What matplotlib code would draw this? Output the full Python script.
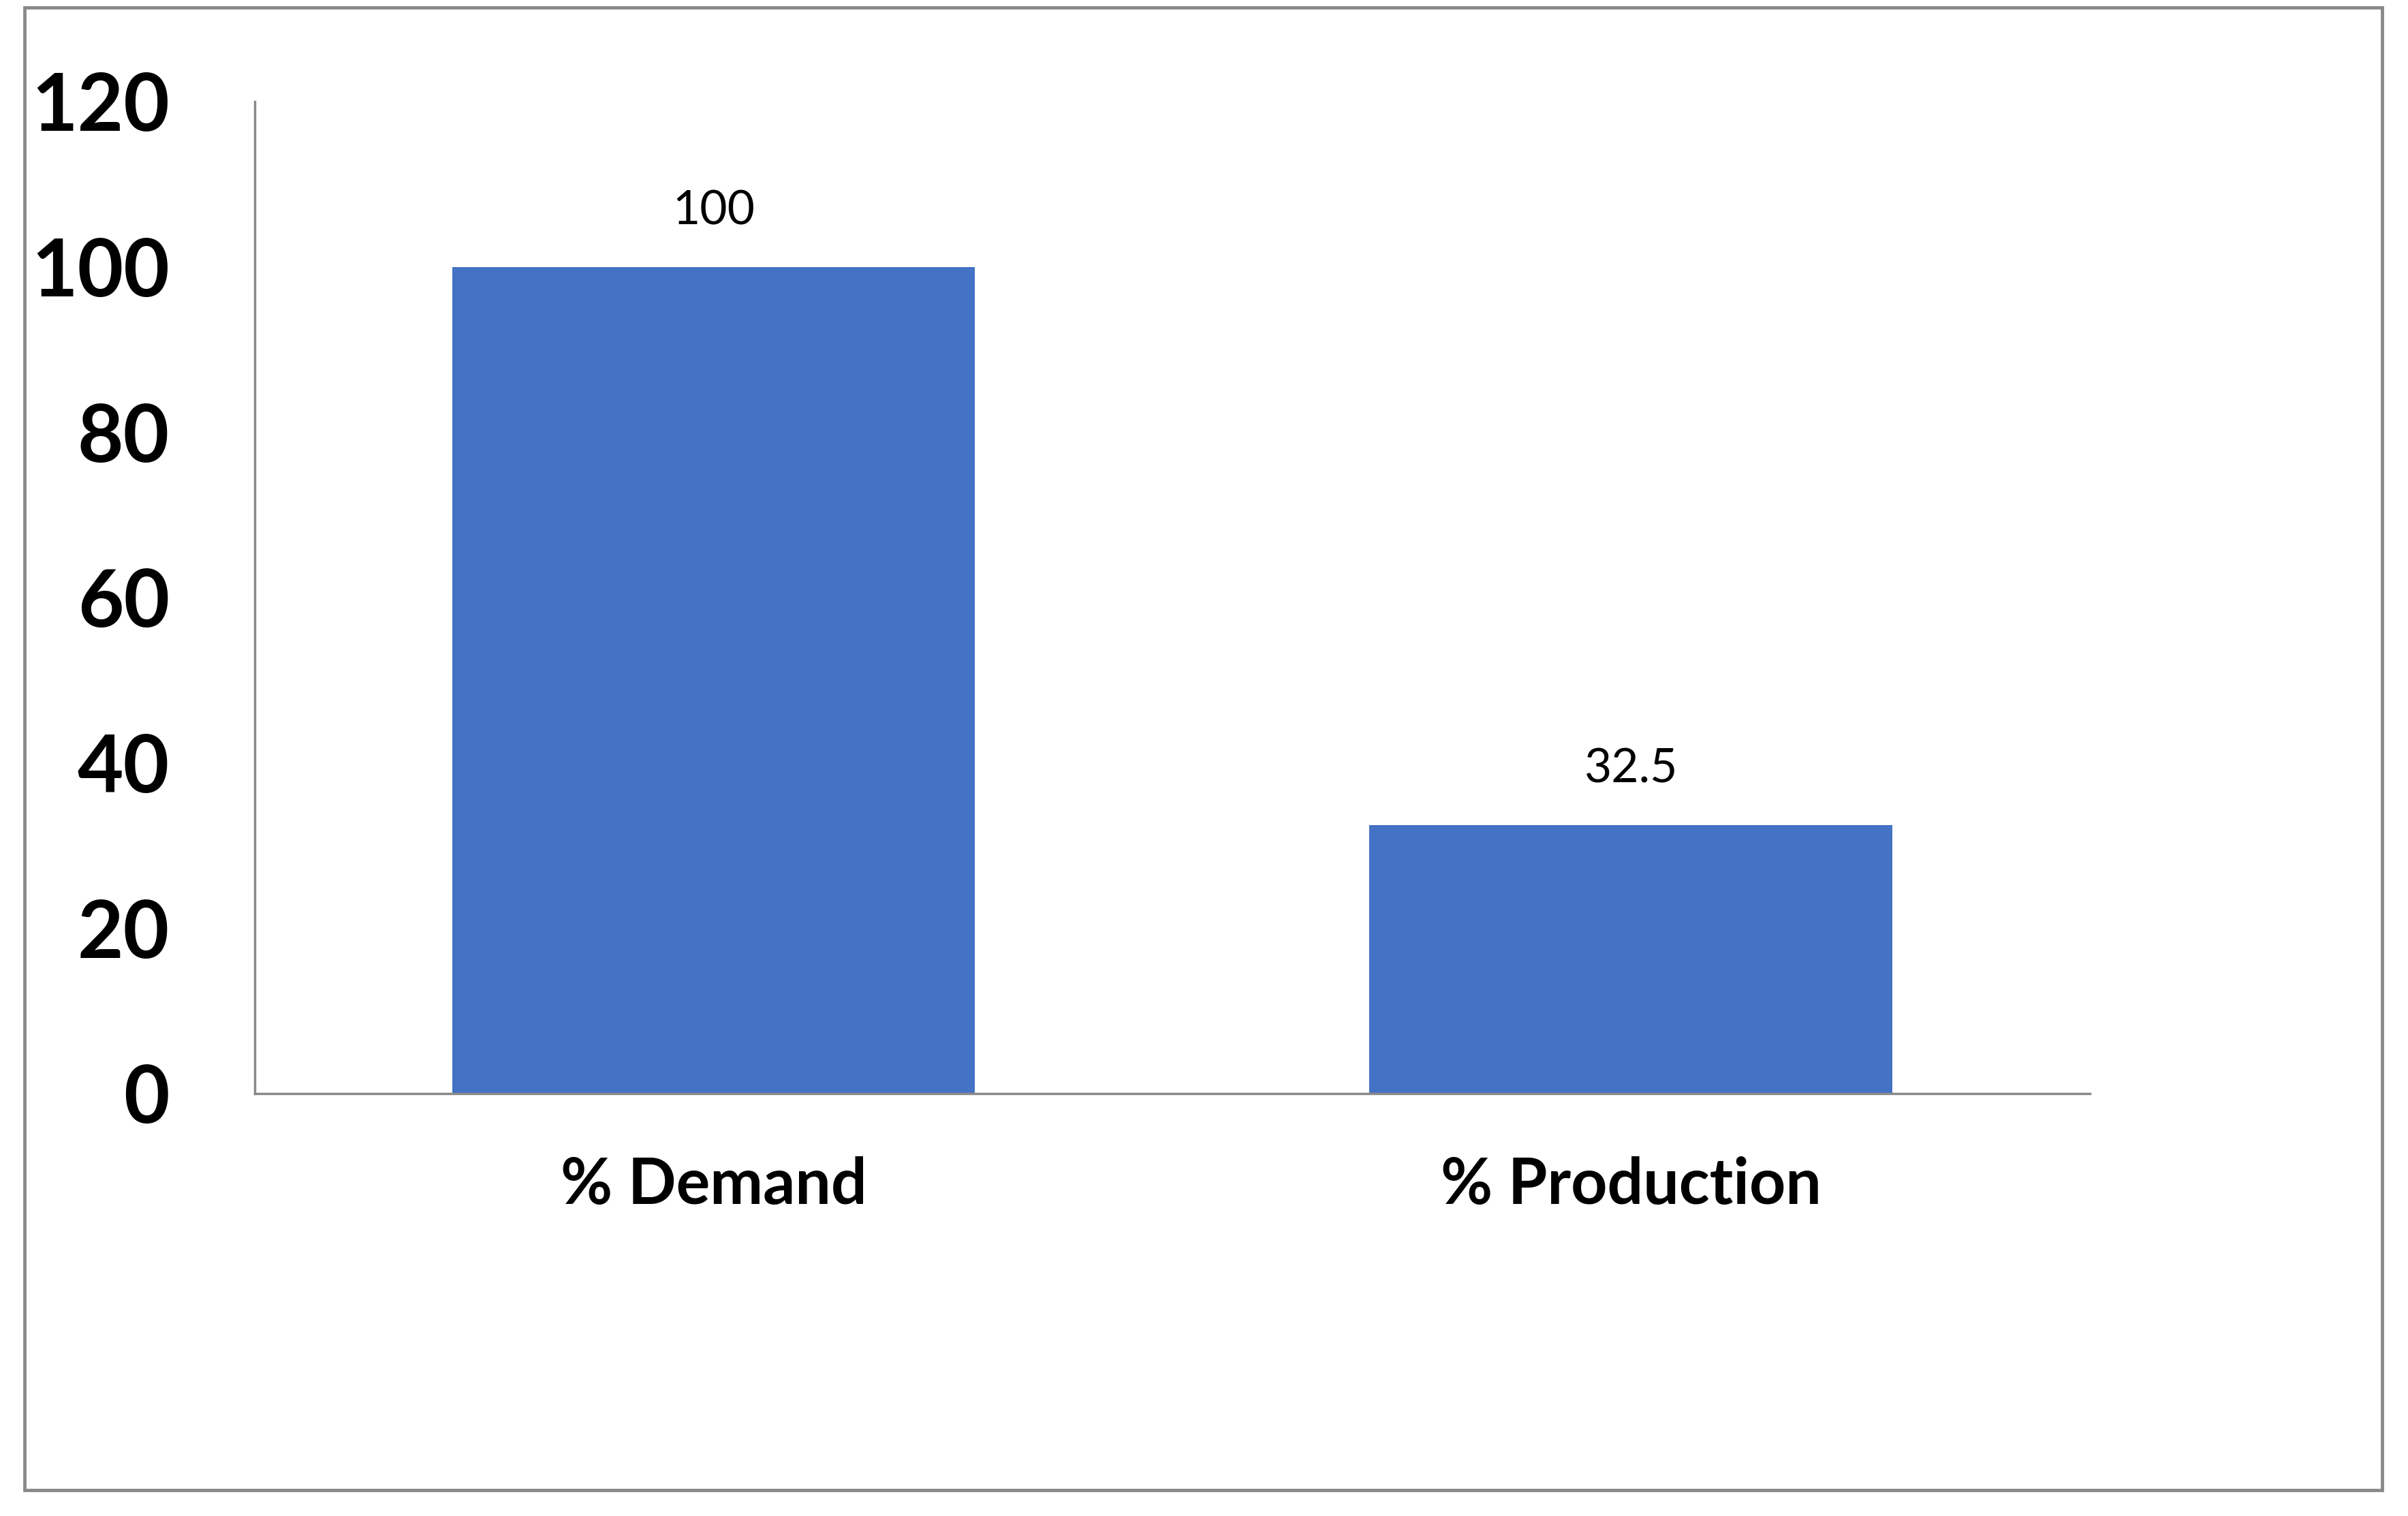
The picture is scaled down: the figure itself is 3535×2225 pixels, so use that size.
import matplotlib.pyplot as plt
from matplotlib.patches import Rectangle

# Werte aus dem Diagramm
categories = ["% Demand", "% Production"]
values = [100, 32.5]
y_ticks = [0, 20, 40, 60, 80, 100, 120]

plt.rcParams['font.family'] = ['Lato', 'DejaVu Sans']

fig = plt.figure(figsize=(35.35, 22.25), dpi=100)
ax = fig.add_axes([0.1058, 0.2787, 0.762, 0.6544])

x = list(range(len(categories)))
bars = ax.bar(x, values, width=0.57, color="#4472C4")

# Beschriftung über den Balken
for b, v in zip(bars, values):
    ax.annotate(f"{v:g}", (b.get_x() + b.get_width() / 2, v),
                xytext=(0, 36), textcoords="offset points",
                ha="center", va="bottom", fontsize=50)

ax.set_xlim(-0.5, 1.5)
ax.set_ylim(0, 120)
ax.set_yticks(y_ticks)
ax.set_yticklabels([str(t) for t in y_ticks], fontsize=84, fontweight="bold")
ax.set_xticks(x)
ax.set_xticklabels(categories, fontsize=67, fontweight="bold")
ax.tick_params(axis="both", length=0)
ax.tick_params(axis="y", pad=90)
ax.tick_params(axis="x", pad=66)

for s in ["top", "right"]:
    ax.spines[s].set_visible(False)
for s in ["left", "bottom"]:
    ax.spines[s].set_color("#898989")
    ax.spines[s].set_linewidth(2.5)

# Rahmen um die ganze Grafik
fig.patches.append(Rectangle((0.0102, 0.017), 0.979, 0.978, transform=fig.transFigure,
                             fill=False, edgecolor="#898989", linewidth=3.5))

fig.savefig("out.png", dpi=100)
